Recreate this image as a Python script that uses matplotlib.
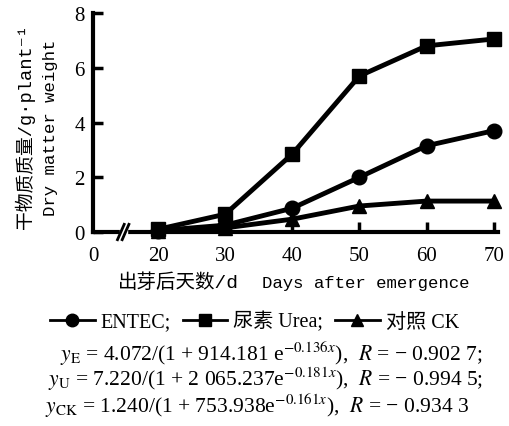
import matplotlib
matplotlib.use("Agg")
import matplotlib.pyplot as plt
import matplotlib.transforms as mtrans
from matplotlib.lines import Line2D

plt.rcParams['font.family'] = ['Liberation Serif', 'Noto Sans CJK SC', 'DejaVu Sans']
plt.rcParams['mathtext.fontset'] = 'stix'

days = [20, 30, 40, 50, 60, 70]
entec = [0.05, 0.25, 0.87, 2.0, 3.15, 3.7]
urea = [0.1, 0.65, 2.85, 5.7, 6.8, 7.05]
ck = [0.05, 0.15, 0.47, 0.95, 1.13, 1.13]

series_labels = ["ENTEC;", "尿素 Urea;", "对照 CK"]
x_ticks = [20, 30, 40, 50, 60, 70]
y_ticks = [0, 2, 4, 6, 8]
x_origin = 10.3

mono = ['Liberation Mono', 'Noto Sans CJK SC', 'DejaVu Sans']

fig = plt.figure(figsize=(5.09, 4.27), dpi=100)
ax = fig.add_axes([0.1827, 0.4543, 0.795, 0.5129])

lw = 3.5
ax.plot(days, urea, color='black', lw=lw, marker='s', ms=9.5, clip_on=False, zorder=3)
ax.plot(days, entec, color='black', lw=lw, marker='o', ms=10.5, clip_on=False, zorder=3)
ax.plot(days, ck, color='black', lw=lw, marker='^', ms=10.5, clip_on=False, zorder=3)

ax.set_xlim(x_origin, 70.6)
ax.set_ylim(0, 8)
for s in ['top', 'right']:
    ax.spines[s].set_visible(False)
for s in ['left', 'bottom']:
    ax.spines[s].set_linewidth(3)

ax.set_xticks([x_origin] + x_ticks)
ax.set_xticklabels(['0'] + [str(t) for t in x_ticks])
ax.set_yticks(y_ticks)
ax.set_yticklabels([str(t) for t in y_ticks])
ax.tick_params(axis='both', direction='in', length=7, width=2.5, labelsize=15, pad=6)
ax.tick_params(axis='x', pad=10)
ax.xaxis.get_major_ticks()[0].tick1line.set_visible(False)

# axis break
trans = mtrans.blended_transform_factory(ax.transData, ax.transAxes)
bx = 14.8
ax.add_patch(plt.Rectangle((bx - 0.5, -0.03), 1.0, 0.06, transform=trans,
                           color='white', clip_on=False, zorder=4))
for dx in (-0.35, 0.35):
    ax.plot([bx + dx - 0.5, bx + dx + 0.5], [-0.035, 0.035], transform=trans,
            color='black', lw=2, clip_on=False, zorder=5)

ax.text(-0.168, 0.485, "干物质质量/g·plant⁻¹", transform=ax.transAxes,
        rotation=90, ha='center', va='center', fontsize=13.5, family=mono)
ax.text(-0.106, 0.48, "Dry matter weight", transform=ax.transAxes,
        rotation=90, ha='center', va='center', fontsize=12.5, family=mono)

fig.text(118 / 509, 0.337, "出芽后天数/d", ha='left', va='center',
         fontsize=14, family=mono)
fig.text(262 / 509, 0.337, "Days after emergence", ha='left', va='center',
         fontsize=12.5, family=mono)

handles = [Line2D([], [], color='black', lw=2, marker='o', ms=9),
           Line2D([], [], color='black', lw=2, marker='s', ms=8),
           Line2D([], [], color='black', lw=2, marker='^', ms=9)]
fig.legend(handles, series_labels, loc='center', bbox_to_anchor=(0.50, 0.245),
           ncol=3, frameon=False, fontsize=14.5, handlelength=2.2, handletextpad=0.3,
           columnspacing=0.6)

eqs = [r"$y_{\rm E}$ = 4.072/(1 + 914.181 e$^{-0.136x}$),  $R$ = − 0.902 7;",
       r"$y_{\rm U}$ = 7.220/(1 + 2 065.237e$^{-0.181x}$),  $R$ = − 0.994 5;",
       r"$y_{\rm CK}$ = 1.240/(1 + 753.938e$^{-0.161x}$),  $R$ = − 0.934 3"]
eq_x = [0.533, 0.521, 0.504]
for i, e in enumerate(eqs):
    fig.text(eq_x[i], 0.172 - i * 0.061, e, ha='center', va='center', fontsize=15.5)

fig.savefig("out.png", dpi=100)
